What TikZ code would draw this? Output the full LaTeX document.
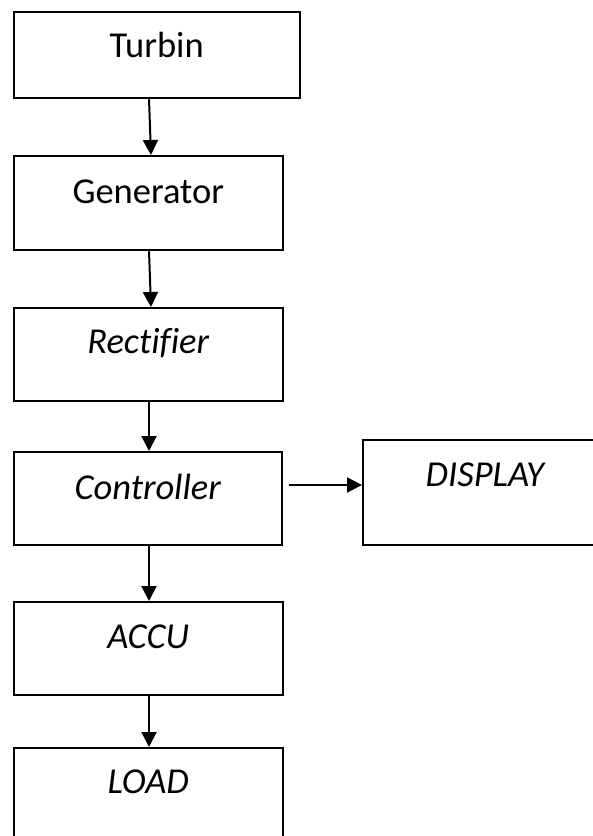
\documentclass[tikz,border=0pt]{standalone}
\usepackage{fontspec}
\setmainfont[Ligatures=NoCommon]{Carlito}
\usetikzlibrary{arrows.meta,positioning}
\tikzset{
  blockbox/.style={draw=black, line width=1.5pt, rectangle, inner sep=0pt, anchor=north west},
  blocktext/.style={font=\fontsize{36.5}{40}\selectfont, inner sep=0pt, anchor=center},
  flow/.style={line width=2pt, -{Triangle[length=15pt,width=15pt]}}
}
\begin{document}
\begin{tikzpicture}[x=1pt,y=-1pt]
  \useasboundingbox (0,0) rectangle (593,836);
  \fill[white] (0,0) rectangle (593,836);
  \clip (0,0) rectangle (593,836);

  % blocks of the main chain
  \node[blockbox, minimum width=286pt, minimum height=86pt] (tur) at (13,11) {};
  \node[blockbox, minimum width=269pt, minimum height=94pt] (gen) at (13,155) {};
  \node[blockbox, minimum width=269pt, minimum height=93pt] (rec) at (13,307) {};
  \node[blockbox, minimum width=268pt, minimum height=93pt] (con) at (13,451) {};
  \node[blockbox, minimum width=269pt, minimum height=93pt] (acc) at (13,601) {};
  \node[blockbox, minimum width=269pt, minimum height=120pt] (lod) at (13,747) {};
  % side block
  \node[blockbox, minimum width=244pt, minimum height=105pt] (dis) at (362,439) {};

  % labels
  \node[blocktext] (turT) at ([yshift=-34pt]tur.north) {Turbin};
  \node[blocktext] (genT) at ([yshift=-37pt]gen.north) {Generator};
  \node[blocktext] (recT) at ([yshift=-36pt]rec.north) {\itshape Rectifier};
  \node[blocktext] (conT) at ([yshift=-36pt]con.north) {\itshape Controller};
  \node[blocktext] (accT) at ([yshift=-36pt]acc.north) {\itshape ACCU};
  \node[blocktext] (lodT) at ([yshift=-35pt]lod.north) {\itshape LOAD};
  \node[blocktext] (disT) at ([yshift=-36pt]dis.north) {\itshape DISPLAY};

  % connectors
  \draw[flow] ([xshift=136pt]tur.south west) -- ([xshift=138pt]gen.north west);
  \draw[flow] ([xshift=136pt]gen.south west) -- ([xshift=138pt]rec.north west);
  \draw[flow] ([xshift=136pt]rec.south west) -- ([xshift=136pt]con.north west);
  \draw[flow] ([xshift=136pt]con.south west) -- ([xshift=136pt]acc.north west);
  \draw[flow] ([xshift=136pt]acc.south west) -- ([xshift=136pt]lod.north west);
  \draw[flow] ([xshift=6pt,yshift=-34pt]con.north east) -- ([yshift=-46pt]dis.north west);
\end{tikzpicture}
\end{document}
